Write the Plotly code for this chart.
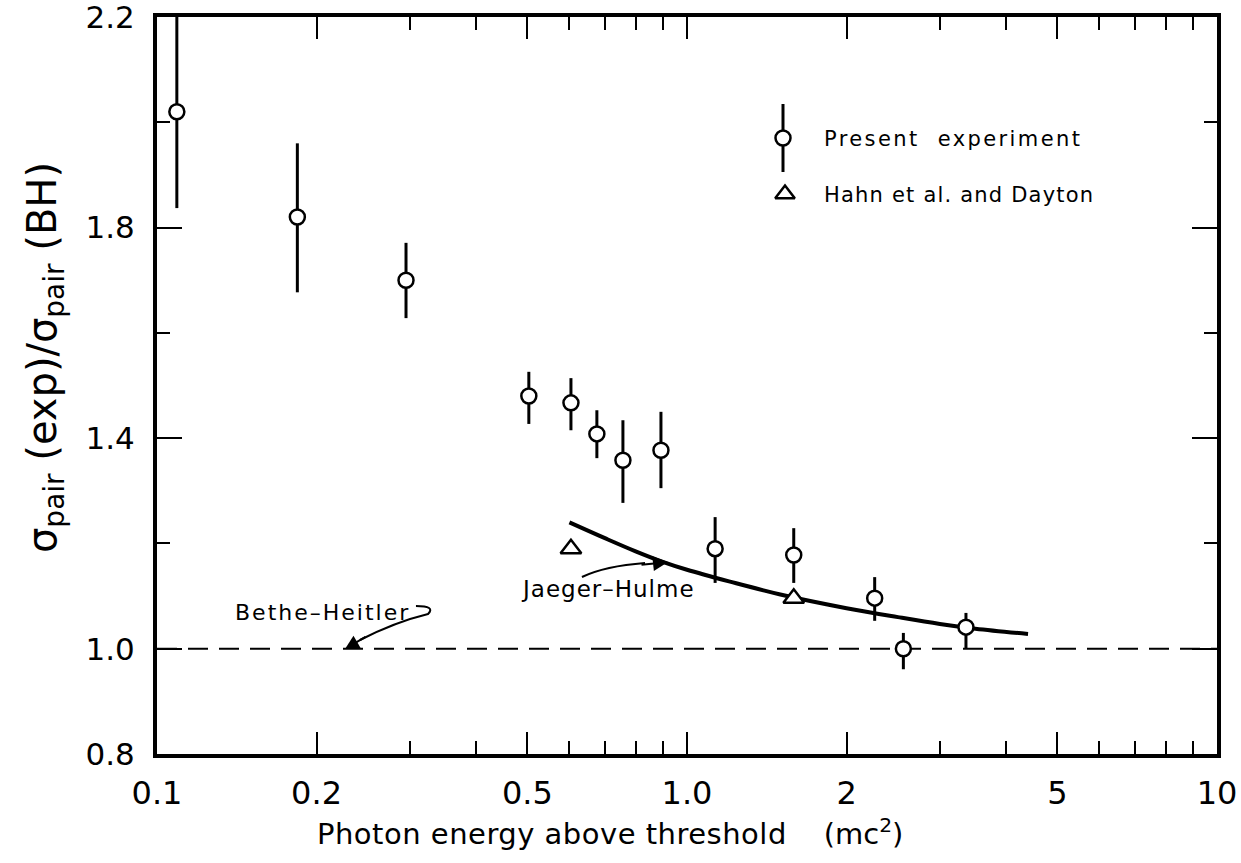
import plotly.graph_objects as go

# ---- data ----
exp_x = [0.109, 0.184, 0.295, 0.503, 0.604, 0.676, 0.757, 0.893, 1.13, 1.59, 2.26, 2.56, 3.36]
exp_y = [2.02, 1.82, 1.70, 1.48, 1.467, 1.408, 1.358, 1.377, 1.19, 1.178, 1.096, 1.00, 1.041]
exp_hi = [2.20, 1.96, 1.771, 1.526, 1.514, 1.453, 1.434, 1.45, 1.25, 1.229, 1.136, 1.03, 1.068]
exp_lo = [1.837, 1.677, 1.628, 1.427, 1.415, 1.362, 1.277, 1.305, 1.125, 1.125, 1.053, 0.961, 1.001]

hahn_x = [0.604, 1.59]
hahn_y = [1.19, 1.096]

jh_x = [0.6, 0.7, 0.8, 0.9, 1.0, 1.2, 1.5, 2.0, 2.5, 3.0, 3.5, 4.4]
jh_y = [1.24, 1.21, 1.185, 1.165, 1.15, 1.128, 1.103, 1.077, 1.06, 1.047, 1.038, 1.028]

bh_x = [0.1, 10]
bh_y = [1.0, 1.0]

x_major = [0.1, 0.2, 0.5, 1, 2, 5, 10]
x_labels = ["0.1", "0.2", "0.5", "1.0", "2", "5", "10"]
x_minor = [0.3, 0.4, 0.6, 0.7, 0.8, 0.9, 3, 4, 6, 7, 8, 9]
y_major = [0.8, 1.0, 1.4, 1.8, 2.2]
y_labels = ["0.8", "1.0", "1.4", "1.8", "2.2"]
y_minor = [1.2, 1.6, 2.0]

FONT = "DejaVu Sans"
W, H = 1241, 863
L, R, T, B = 157, 1217, 17, 754


def px(xp):
    return (xp - L) / (R - L)


def py(yp):
    return (B - yp) / (B - T)


def sp(text, s):
    return f'<span style="letter-spacing:{s}px">{text}</span>'


fig = go.Figure()

fig.add_trace(go.Scatter(x=bh_x, y=bh_y, mode="lines",
                         line=dict(color="black", width=2, dash="20px,11px"),
                         showlegend=False, hoverinfo="skip"))
fig.add_trace(go.Scatter(x=jh_x, y=jh_y, mode="lines", line_shape="spline",
                         line=dict(color="black", width=4),
                         showlegend=False))
fig.add_trace(go.Scatter(
    x=exp_x, y=exp_y, mode="markers",
    marker=dict(symbol="circle", size=15, color="white",
                line=dict(color="black", width=2.5)),
    error_y=dict(type="data", symmetric=False,
                 array=[h - v for h, v in zip(exp_hi, exp_y)],
                 arrayminus=[v - l for l, v in zip(exp_lo, exp_y)],
                 color="black", thickness=3, width=0),
    showlegend=False))
fig.add_trace(go.Scatter(
    x=hahn_x, y=hahn_y, mode="markers",
    marker=dict(symbol="triangle-up", size=18, color="white",
                line=dict(color="black", width=2.5)),
    showlegend=False))

# legend symbols drawn on an overlay axis spanning the plot area (0..1)
fig.add_trace(go.Scatter(
    x=[px(783)], y=[py(138)], xaxis="x2", yaxis="y2", mode="markers",
    marker=dict(symbol="circle", size=15, color="white",
                line=dict(color="black", width=2.5)),
    error_y=dict(type="data", symmetric=False, array=[py(104) - py(138)],
                 arrayminus=[py(138) - py(172)], color="black", thickness=3, width=0),
    showlegend=False))
fig.add_trace(go.Scatter(
    x=[px(785)], y=[py(194)], xaxis="x2", yaxis="y2", mode="markers",
    marker=dict(symbol="triangle-up", size=17, color="white",
                line=dict(color="black", width=2.5)),
    showlegend=False))

ann = [
    dict(x=px(822), y=py(139), xref="paper", yref="paper", text=sp("Present  experiment", 2.4),
         showarrow=False, xanchor="left", yanchor="middle",
         font=dict(family=FONT, size=21, color="black")),
    dict(x=px(822), y=py(195), xref="paper", yref="paper", text=sp("Hahn et al. and Dayton", 1.2),
         showarrow=False, xanchor="left", yanchor="middle",
         font=dict(family=FONT, size=21, color="black")),
    dict(x=px(233), y=py(612), xref="paper", yref="paper", text=sp("Bethe\u2013Heitler", 2),
         showarrow=False, xanchor="left", yanchor="middle",
         font=dict(family=FONT, size=22, color="black")),
    dict(x=px(519), y=py(589), xref="paper", yref="paper", text=sp("Jaeger\u2013Hulme", 1),
         showarrow=False, xanchor="left", yanchor="middle",
         font=dict(family=FONT, size=23, color="black")),
    # axis titles
    dict(x=px(610), y=py(832), xref="paper", yref="paper",
         text=sp("Photon energy above threshold", 0.5) + "    (mc<sup>2</sup>)",
         showarrow=False, xanchor="center", yanchor="middle",
         font=dict(family=FONT, size=29, color="black")),
    dict(x=px(45), y=py(358), xref="paper", yref="paper", textangle=-90,
         text="\u03c3<sub>pair</sub> (exp)/\u03c3<sub>pair</sub> (BH)",
         showarrow=False, xanchor="center", yanchor="middle",
         font=dict(family=FONT, size=40, color="black")),
    # arrow heads
    dict(x=px(345), y=py(649), xref="paper", yref="paper", ax=22, ay=-13,
         text="", showarrow=True, arrowhead=2, arrowsize=1.4, arrowwidth=2, arrowcolor="black"),
    dict(x=px(668), y=py(562), xref="paper", yref="paper", ax=-28, ay=3,
         text="", showarrow=True, arrowhead=2, arrowsize=1.5, arrowwidth=2, arrowcolor="black"),
]


def P(x, y):
    return f"{px(x):.4f},{py(y):.4f}"


shapes = [
    dict(type="path", xref="paper", yref="paper",
         path=f"M {P(416,606)} Q {P(436,606)} {P(428,614)} Q {P(395,622)} {P(360,640)}",
         line=dict(color="black", width=2)),
    dict(type="path", xref="paper", yref="paper",
         path=f"M {P(582,577)} Q {P(605,566)} {P(645,563)}",
         line=dict(color="black", width=2)),
]

fig.update_layout(
    width=W, height=H,
    margin=dict(l=L, r=W - R, t=T, b=H - B, autoexpand=False),
    paper_bgcolor="white", plot_bgcolor="white",
    annotations=ann, shapes=shapes,
    font=dict(family=FONT, color="black"),
    xaxis=dict(type="log", range=[-1, 1], showgrid=False, zeroline=False, automargin=False,
               showline=True, linewidth=4, linecolor="black", mirror="allticks",
               ticks="inside", ticklen=22, tickwidth=2, tickcolor="black",
               tickvals=x_major, ticktext=x_labels, ticklabelstandoff=8,
               ticklabeloverflow="allow",
               tickfont=dict(family=FONT, size=32, color="black"),
               minor=dict(tickvals=x_minor, ticks="inside", ticklen=13, tickwidth=2,
                          tickcolor="black", showgrid=False)),
    yaxis=dict(range=[0.8, 2.2], showgrid=False, zeroline=False, automargin=False,
               showline=True, linewidth=4, linecolor="black", mirror="allticks",
               ticks="inside", ticklen=25, tickwidth=2, tickcolor="black",
               tickvals=y_major, ticktext=y_labels, ticklabelstandoff=12,
               ticklabeloverflow="allow",
               tickfont=dict(family=FONT, size=31, color="black"),
               minor=dict(tickvals=y_minor, ticks="inside", ticklen=13, tickwidth=2,
                          tickcolor="black", showgrid=False)),
    xaxis2=dict(overlaying="x", range=[0, 1], visible=False, anchor="y2"),
    yaxis2=dict(overlaying="y", range=[0, 1], visible=False, anchor="x2"),
)

fig.write_html("out.html")
